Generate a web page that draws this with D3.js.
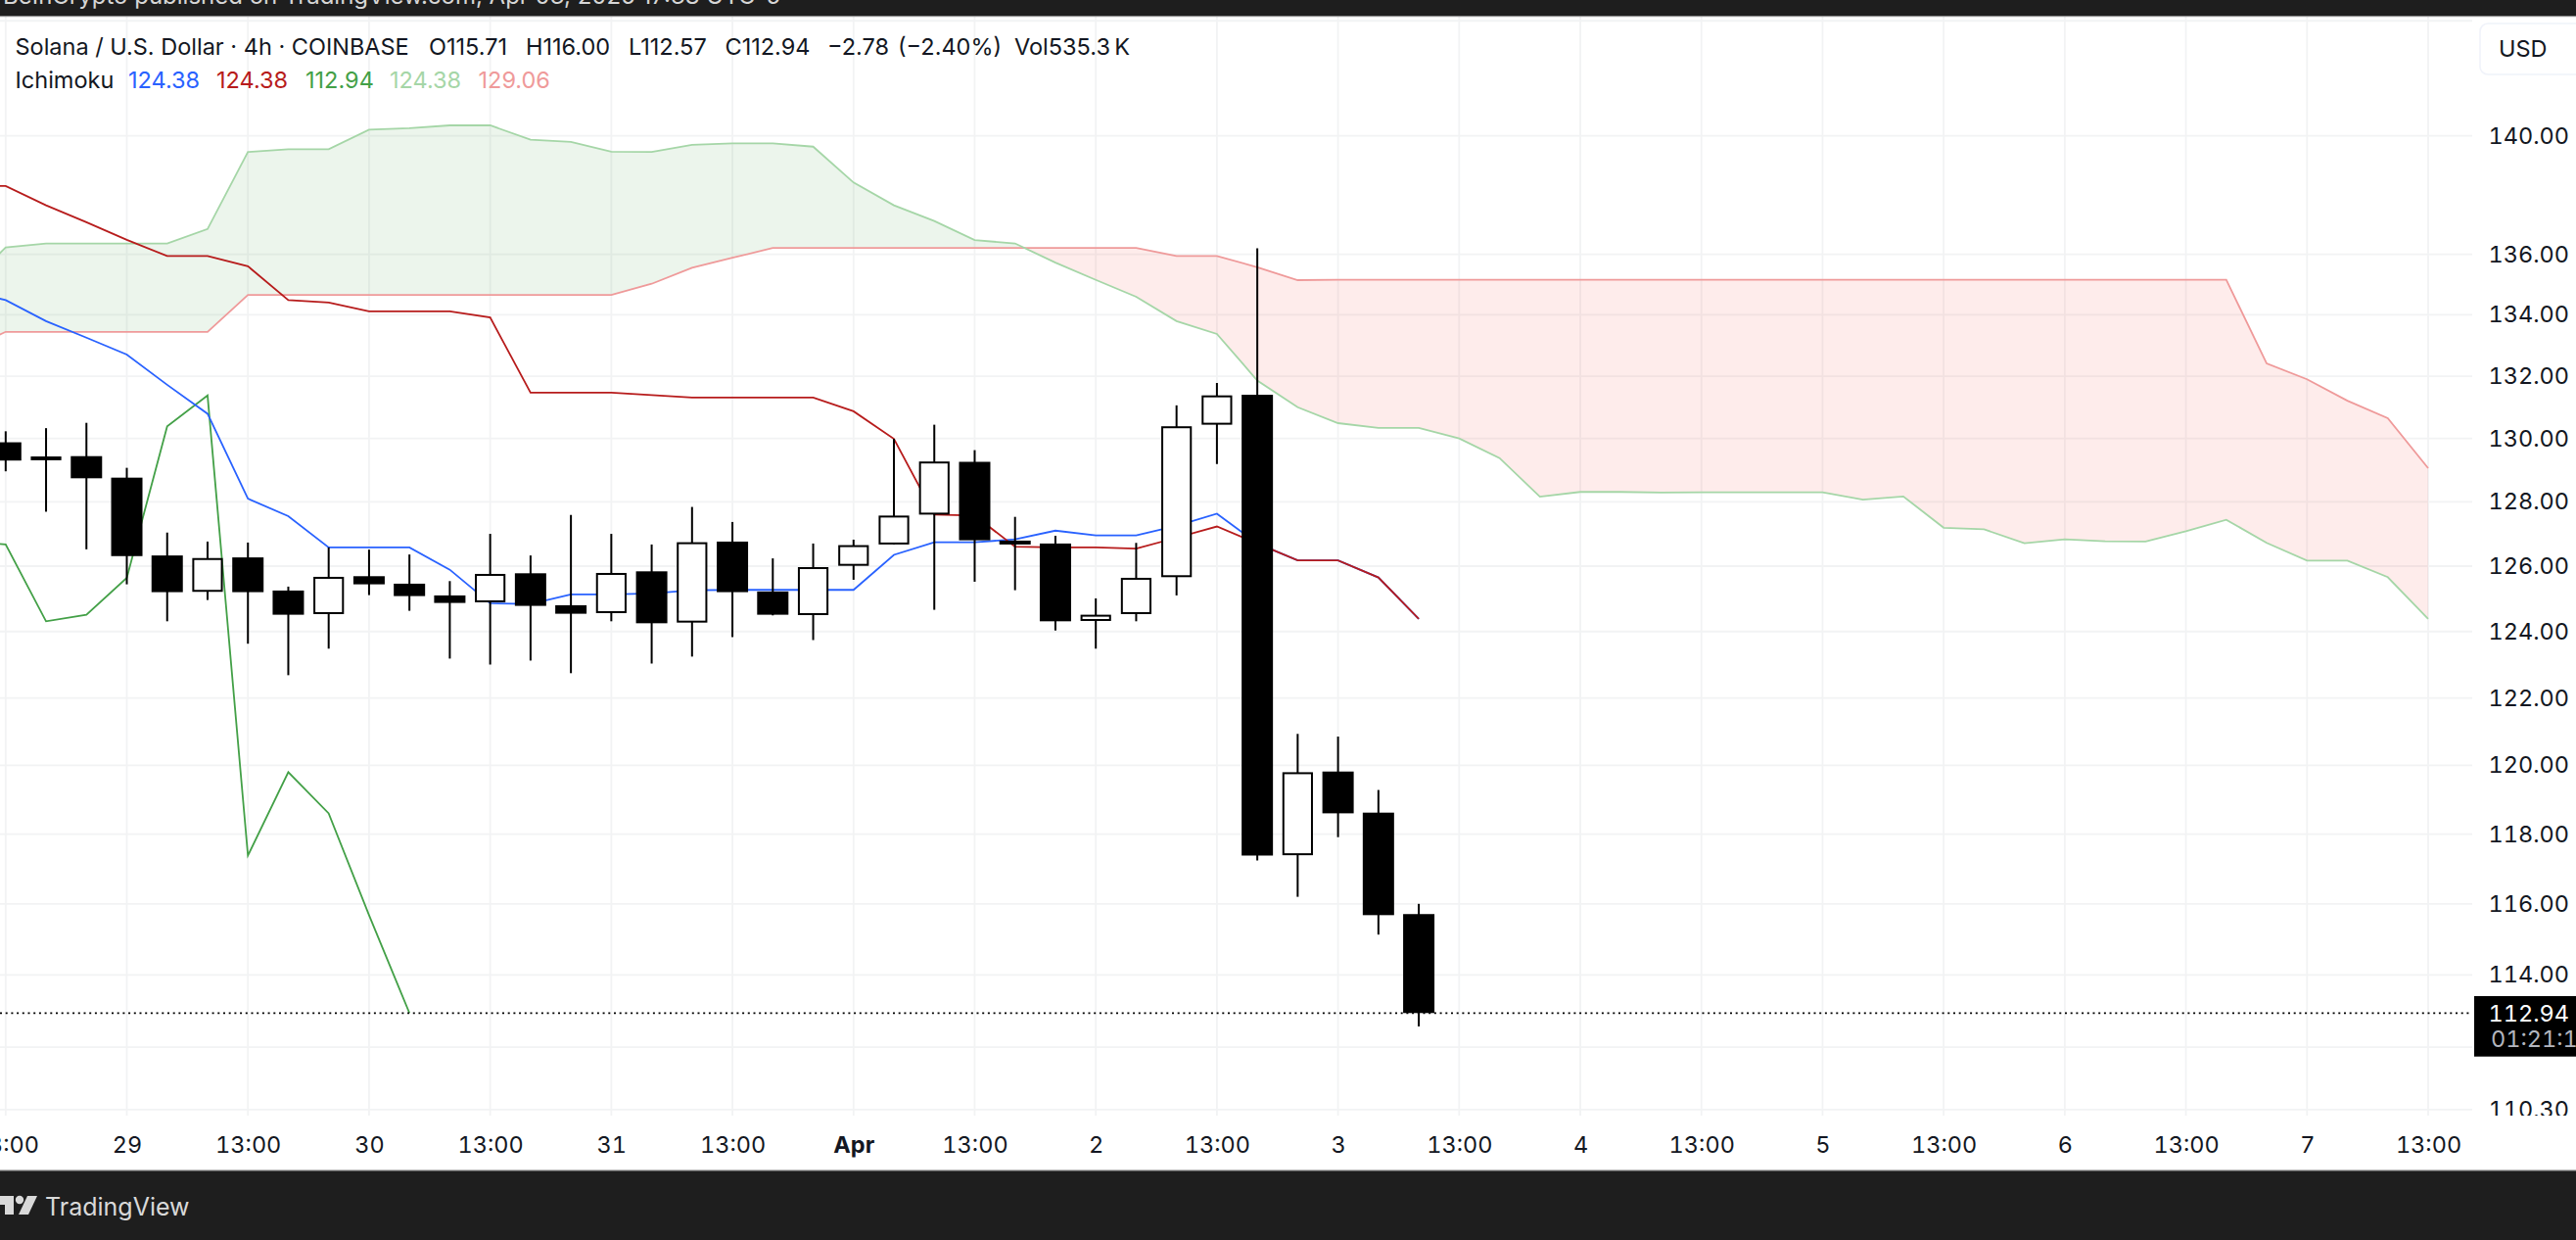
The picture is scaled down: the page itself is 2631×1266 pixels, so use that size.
<!DOCTYPE html>
<html lang="en">

<head>
  <meta charset="UTF-8">
  <title>Solana / U.S. Dollar 4h</title>
  <script src="https://d3js.org/d3.v7.min.js"></script>
  <style>
    html, body { margin: 0; background: #fff; overflow: hidden; }
    svg { display: block; }
    text { font-family: Inter, "Noto Sans", sans-serif; }
    .tab { font-variant-numeric: tabular-nums; }
  </style>
</head>

<body>
  <div id="chart"></div>

<script>
  // candles, one per 4h bar
  const opens = [129.88, 129.31, 129.44, 128.76, 126.33, 125.21, 126.27, 125.25, 124.53, 125.69, 125.46, 125.10,
    124.89, 125.78, 124.80, 124.56, 125.84, 124.27, 126.76, 125.22, 124.50, 126.01, 126.67, 127.60,
    129.26, 126.79, 126.70, 124.32, 124.53, 125.66, 130.44, 131.40, 117.39, 119.82, 118.62, 115.71];
  const highs = [130.23, 130.33, 130.50, 129.07, 127.04, 126.76, 126.73, 125.37, 126.58, 126.51, 126.36, 125.54,
    127.00, 126.33, 127.59, 127.00, 126.67, 127.84, 127.37, 126.24, 126.70, 126.82, 129.99, 130.44,
    129.63, 127.53, 126.94, 125.01, 126.72, 131.06, 131.78, 136.20, 120.93, 120.85, 119.28, 116.00];
  const lows = [128.96, 127.69, 126.52, 125.44, 124.31, 124.96, 123.63, 122.68, 123.48, 125.11, 124.63, 123.18,
    123.00, 123.12, 122.74, 124.31, 123.03, 123.24, 123.83, 124.49, 123.74, 125.58, 126.67, 124.66,
    125.52, 125.26, 124.03, 123.48, 124.31, 125.10, 129.19, 117.24, 116.20, 117.91, 115.13, 112.57];
  const closes = [129.30, 129.43, 128.74, 126.31, 125.20, 126.25, 125.20, 124.51, 125.67, 125.44, 125.08, 124.87,
    125.76, 124.78, 124.54, 125.79, 124.25, 126.74, 125.20, 124.51, 125.97, 126.65, 127.57, 129.27,
    126.80, 126.67, 124.31, 124.51, 125.64, 130.39, 131.38, 117.38, 119.80, 118.60, 115.68, 112.94];

  // ichimoku lines, all start one bar left of the first candle
  const conversion = [134.80, 134.48, 133.79, 133.25, 132.70, 131.72, 130.79, 128.10, 127.55, 126.58, 126.58, 126.58,
    125.89, 124.86, 124.84, 125.13, 125.13, 125.16, 125.26, 125.27, 125.27, 125.27, 125.27, 126.35,
    126.74, 126.74, 126.83, 127.10, 126.95, 126.95, 127.25, 127.63, 126.70, 126.18, 126.18, 125.65, 124.38];
  const base = [138.30, 138.29, 137.64, 137.07, 136.48, 135.94, 135.94, 135.60, 134.48, 134.40, 134.11, 134.11,
    134.11, 133.91, 131.47, 131.47, 131.47, 131.39, 131.31, 131.31, 131.31, 131.31, 130.87, 129.99,
    127.60, 127.57, 126.60, 126.58, 126.58, 126.54, 126.88, 127.23, 126.70, 126.18, 126.18, 125.65, 124.38];
  const lagging = [126.80, 126.67, 124.31, 124.51, 125.64, 130.39, 131.38, 117.38, 119.80, 118.60, 115.68, 112.94];
  const spanA = [134.88, 136.23, 136.36, 136.36, 136.36, 136.36, 136.84, 139.45, 139.54, 139.54, 140.21, 140.26,
    140.36, 140.36, 139.87, 139.79, 139.46, 139.45, 139.69, 139.74, 139.74, 139.63, 138.41, 137.64,
    137.11, 136.47, 136.36, 135.72, 135.15, 134.59, 133.79, 133.37, 131.86, 131.00, 130.49, 130.34,
    130.34, 130.00, 129.38, 128.16, 128.31, 128.31, 128.29, 128.30, 128.30, 128.30, 128.30, 128.07,
    128.17, 127.19, 127.14, 126.71, 126.83, 126.77, 126.76, 127.08, 127.44, 126.72, 126.17, 126.17, 125.66, 124.38];
  const spanB = [132.83, 133.44, 133.44, 133.44, 133.44, 133.44, 133.44, 134.65, 134.65, 134.65, 134.65, 134.65,
    134.65, 134.65, 134.65, 134.65, 134.65, 135.02, 135.55, 135.88, 136.21, 136.21, 136.21, 136.21,
    136.21, 136.21, 136.21, 136.21, 136.21, 136.21, 135.94, 135.94, 135.57, 135.14, 135.15, 135.15,
    135.15, 135.15, 135.15, 135.15, 135.15, 135.15, 135.15, 135.15, 135.15, 135.15, 135.15, 135.15,
    135.15, 135.15, 135.15, 135.15, 135.15, 135.15, 135.15, 135.15, 135.15, 132.41, 131.90, 131.21, 130.65, 129.06];

  // axes
  const gridPrices = [144, 140, 136, 134, 132, 130, 128, 126, 124, 122, 120, 118, 116, 114, 112, 110.3];
  const priceTicks = [140, 136, 134, 132, 130, 128, 126, 124, 122, 120, 118, 116, 114, 110.3];
  const timeBars = [0, 3, 6, 9, 12, 15, 18, 21, 24, 27, 30, 33, 36, 39, 42, 45, 48, 51, 54, 57, 60];
  const timeLabels = ["13:00", "29", "13:00", "30", "13:00", "31", "13:00", "Apr", "13:00", "2", "13:00", "3",
    "13:00", "4", "13:00", "5", "13:00", "6", "13:00", "7", "13:00"];

  // legend text
  const headerParts = ["Solana / U.S. Dollar · 4h · COINBASE", "O115.71", "H116.00", "L112.57", "C112.94", "−2.78", "(−2.40%)", "Vol535.3\u2009K"];
  const ichimokuValues = ["124.38", "124.38", "112.94", "124.38", "129.06"];
  const lastPrice = 112.94;

  const width = 2631, height = 1266;
  const plotRight = 2525, plotBottom = 1139, plotTop = 16;
  const headerX = [15.5, 438, 537, 642, 740.5, 845, 917, 1036];
  const ichimokuX = [131, 221, 312, 398, 488.5];
  const fontSize = 23.5;
  const blue = "#2962FF", red = "#B71C1C", green = "#43A047", lightGreen = "#A5D6A7", pink = "#EF9A9A";
  const ichimokuColors = [blue, red, green, lightGreen, pink];
  const ink = "#131722", gridColor = "#f2f3f4", barColor = "#1e1e1e";

  let x = d3.scaleLinear().domain([0, 60]).range([5.8, 2480]);
  let y = d3.scaleLog().domain([110.3, 140]).range([1132.9, 138.7]);

  let svg = d3.select("#chart").append("svg").attr("width", width).attr("height", height);
  svg.append("rect").attr("width", width).attr("height", height).attr("fill", "#fff");

  svg.append("defs").append("clipPath").attr("id", "plotClip").append("rect")
    .attr("x", 0).attr("y", plotTop).attr("width", plotRight).attr("height", plotBottom - plotTop);
  svg.select("defs").append("clipPath").attr("id", "axisClip").append("rect")
    .attr("x", plotRight).attr("y", plotTop).attr("width", width - plotRight).attr("height", plotBottom - plotTop);

  // grid
  let grid = svg.append("g");
  grid.selectAll(".h").data(gridPrices).enter().append("line")
    .attr("x1", 0).attr("x2", plotRight)
    .attr("y1", d => y(d)).attr("y2", d => y(d))
    .attr("stroke", gridColor).attr("stroke-width", 1.8);
  grid.selectAll(".v").data(timeBars).enter().append("line")
    .attr("x1", d => x(d)).attr("x2", d => x(d))
    .attr("y1", plotTop).attr("y2", plotBottom)
    .attr("stroke", gridColor).attr("stroke-width", 1.8);

  // cloud, with a point added wherever the two spans cross
  let cloud = [];
  spanA.forEach((a, i) => {
    cloud.push({ bar: i - 1, a: a, b: spanB[i] });
    if (i < spanA.length - 1) {
      let d0 = a - spanB[i], d1 = spanA[i + 1] - spanB[i + 1];
      if (d0 * d1 < 0) {
        let t = d0 / (d0 - d1);
        let v = a + t * (spanA[i + 1] - a);
        cloud.push({ bar: i - 1 + t, a: v, b: v });
      }
    }
  });

  let plot = svg.append("g").attr("clip-path", "url(#plotClip)");
  let cloudArea = d3.area().x(d => x(d.bar)).y0(d => y(d.a)).y1(d => y(d.b));
  plot.append("path").attr("d", cloudArea(cloud.filter(d => d.a >= d.b)))
    .attr("fill", green).attr("fill-opacity", 0.1);
  plot.append("path").attr("d", cloudArea(cloud.filter(d => d.a <= d.b)))
    .attr("fill", "#F44336").attr("fill-opacity", 0.1);

  let line = d3.line().x((d, i) => x(i - 1)).y(d => y(d));
  [[spanB, pink], [spanA, lightGreen], [lagging, green], [conversion, blue], [base, red]].forEach(s => {
    plot.append("path").attr("d", line(s[0]))
      .attr("fill", "none").attr("stroke", s[1]).attr("stroke-width", 1.8);
  });

  // last price line
  plot.append("line")
    .attr("x1", 0).attr("x2", plotRight)
    .attr("y1", y(lastPrice)).attr("y2", y(lastPrice))
    .attr("stroke", "#000").attr("stroke-width", 1.8).attr("stroke-dasharray", "2 3.7");

  // candles
  let candleData = opens.map((o, i) => ({ bar: i, open: o, high: highs[i], low: lows[i], close: closes[i] }));
  let candles = plot.selectAll(".candle").data(candleData).enter().append("g");
  candles.append("line")
    .attr("x1", d => x(d.bar)).attr("x2", d => x(d.bar))
    .attr("y1", d => y(d.high)).attr("y2", d => y(d.low))
    .attr("stroke", "#000").attr("stroke-width", 2);
  candles.filter(d => d.close < d.open).append("rect")
    .attr("x", d => x(d.bar) - 16).attr("width", 32)
    .attr("y", d => y(d.open)).attr("height", d => y(d.close) - y(d.open))
    .attr("fill", "#000");
  candles.filter(d => d.close >= d.open).append("rect")
    .attr("x", d => x(d.bar) - 14.6).attr("width", 29.2)
    .attr("y", d => y(d.close) + 1).attr("height", d => Math.max(y(d.open) - y(d.close) - 2, 1))
    .attr("fill", "#fff").attr("stroke", "#000").attr("stroke-width", 2);

  // price axis
  let priceAxis = svg.append("g").attr("clip-path", "url(#axisClip)").append("g")
    .attr("transform", `translate(2624,0)`)
    .call(d3.axisRight(y).tickValues(priceTicks).tickSize(0).tickFormat(d3.format(".2f")));
  priceAxis.select(".domain").remove();
  priceAxis.selectAll("text")
    .attr("class", "tab")
    .attr("x", 0).attr("text-anchor", "end").attr("fill", ink)
    .attr("font-size", fontSize);

  // time axis
  let timeAxis = svg.append("g")
    .attr("transform", `translate(0,${plotBottom})`)
    .call(d3.axisBottom(x).tickValues(timeBars).tickSize(0).tickFormat((d, i) => timeLabels[i]));
  timeAxis.select(".domain").remove();
  timeAxis.selectAll("text")
    .attr("class", "tab")
    .attr("y", 30).attr("dy", "0.36em").attr("fill", ink)
    .attr("font-size", fontSize)
    .attr("font-weight", (d, i) => timeLabels[i] == "Apr" ? 700 : 400);

  // header text
  svg.selectAll(".header").data(headerParts).enter().append("text")
    .attr("x", (d, i) => headerX[i]).attr("y", 47.5).attr("dy", "0.36em")
    .attr("font-size", fontSize).attr("fill", ink).text(d => d);
  svg.append("text").attr("x", 15.5).attr("y", 81.5).attr("dy", "0.36em")
    .attr("font-size", fontSize).attr("fill", ink).text("Ichimoku");
  svg.selectAll(".ichi").data(ichimokuValues).enter().append("text")
    .attr("x", (d, i) => ichimokuX[i]).attr("y", 81.5).attr("dy", "0.36em")
    .attr("font-size", fontSize).attr("fill", (d, i) => ichimokuColors[i]).text(d => d);

  // currency button
  svg.append("rect").attr("x", 2533).attr("y", 24).attr("width", 120).attr("height", 52).attr("rx", 8)
    .attr("fill", "#fff").attr("stroke", "#f0f3fa").attr("stroke-width", 1.6);
  svg.append("text").attr("x", 2552).attr("y", 50).attr("dy", "0.36em")
    .attr("font-size", fontSize).attr("fill", ink).text("USD");

  // last price label
  svg.append("rect").attr("x", 2527).attr("y", 1017).attr("width", 104).attr("height", 61.7).attr("fill", "#000");
  svg.append("text").attr("class", "tab").attr("x", 2624).attr("y", y(lastPrice)).attr("dy", "0.36em").attr("text-anchor", "end")
    .attr("font-size", fontSize).attr("fill", "#fff").text(d3.format(".2f")(lastPrice));
  svg.append("text").attr("class", "tab").attr("x", 2544).attr("y", 1061).attr("dy", "0.36em")
    .attr("font-size", fontSize).attr("fill", "#b2b5be").text("01:21:18");

  // top and bottom bars
  svg.append("rect").attr("width", width).attr("height", plotTop).attr("fill", barColor);
  svg.append("rect").attr("y", plotTop).attr("width", width).attr("height", 1.2).attr("fill", "#8c8c8c");
  svg.append("text").attr("x", 3).attr("y", 3.5).attr("font-size", 24).attr("fill", "#d6d6d6")
    .text("BeInCrypto published on TradingView.com, Apr 03, 2025 17:38 UTC-5");
  svg.append("rect").attr("y", 1195).attr("width", width).attr("height", 71).attr("fill", barColor);
  svg.append("rect").attr("y", 1194.4).attr("width", width).attr("height", 1.2).attr("fill", "#8c8c8c");

  // logo
  let logo = svg.append("g").attr("fill", "#d9d9d9");
  logo.append("path").attr("d", "M-6 1221H14V1240H5V1230H-6Z");
  logo.append("circle").attr("cx", 20).attr("cy", 1225).attr("r", 4.2);
  logo.append("path").attr("d", "M28 1221H38L29 1240H19Z");
  svg.append("text").attr("x", 46).attr("y", 1232).attr("dy", "0.36em")
    .attr("font-size", 25).attr("fill", "#d9d9d9").text("TradingView");
</script>

</body>

</html>
